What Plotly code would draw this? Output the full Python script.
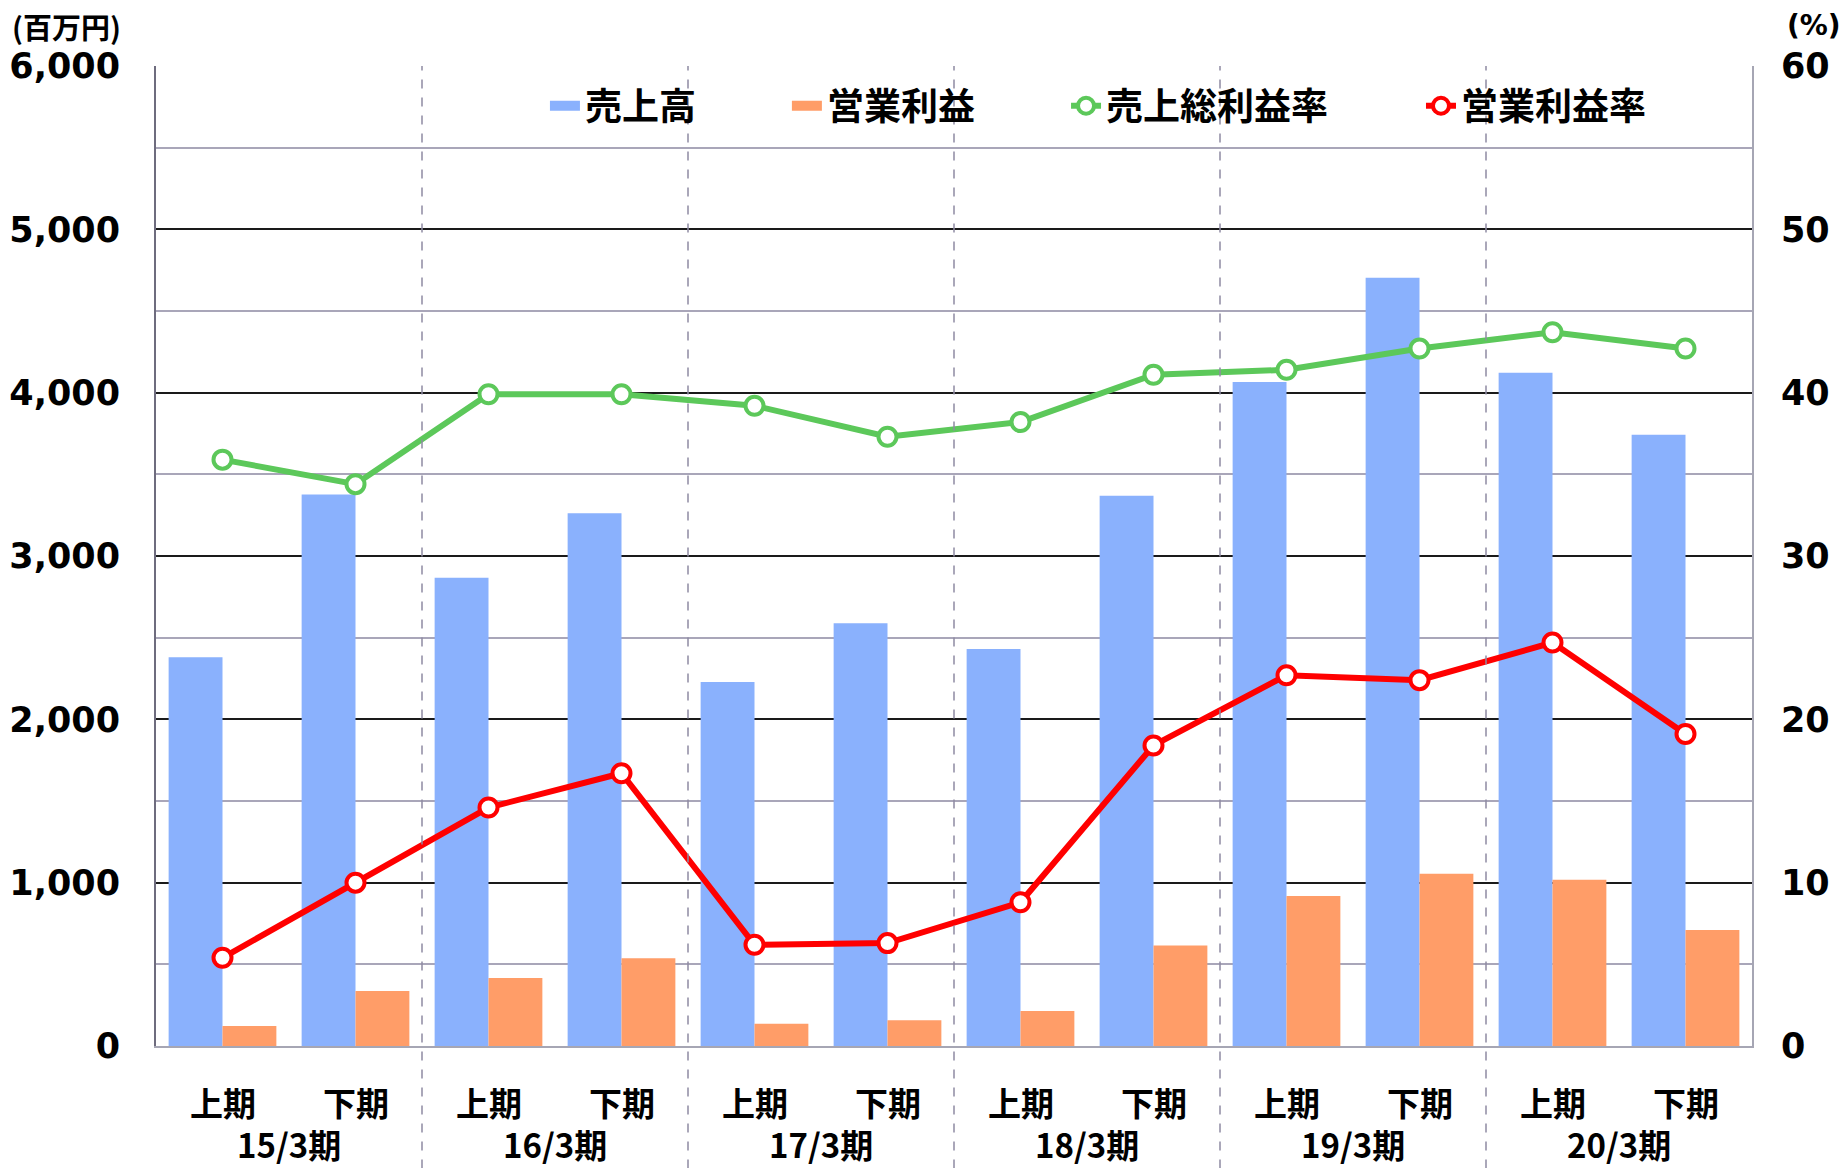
import plotly.graph_objects as go

half_labels = ["上期", "下期"] * 6
year_labels = ["15/3期", "16/3期", "17/3期", "18/3期", "19/3期", "20/3期"]
sales = [2380, 3376, 2867, 3262, 2229, 2588, 2430, 3369, 4065, 4703, 4122, 3742]
op_profit = [122, 337, 416, 538, 136, 158, 215, 616, 918, 1054, 1018, 710]
gross_margin = [35.9, 34.4, 39.9, 39.9, 39.2, 37.3, 38.2, 41.1, 41.4, 42.7, 43.7, 42.7]
op_margin = [5.4, 10.0, 14.6, 16.7, 6.2, 6.3, 8.8, 18.4, 22.7, 22.4, 24.7, 19.1]
left_ticks = [0, 1000, 2000, 3000, 4000, 5000, 6000]
right_ticks = [0, 10, 20, 30, 40, 50, 60]

BLUE = "#8AB1FD"
ORANGE = "#FF9D68"
GREEN = "#5CC85A"
RED = "#FF0000"
CJK = "Noto Sans CJK JP"
NUM = "DejaVu Sans"

x = list(range(len(sales)))
fig = go.Figure()

fig.add_trace(go.Bar(x=x, y=sales, name="売上高", marker=dict(color=BLUE, line=dict(width=0)),
                     showlegend=False, offsetgroup="a"))
fig.add_trace(go.Bar(x=x, y=op_profit, name="営業利益", marker=dict(color=ORANGE, line=dict(width=0)),
                     showlegend=False, offsetgroup="b"))
fig.add_trace(go.Scatter(x=x, y=gross_margin, name="売上総利益率", yaxis="y2", mode="lines+markers",
                         line=dict(color=GREEN, width=6),
                         marker=dict(symbol="circle", size=18, color="white", line=dict(color=GREEN, width=4)),
                         legend="legend3"))
fig.add_trace(go.Scatter(x=x, y=op_margin, name="営業利益率", yaxis="y2", mode="lines+markers",
                         line=dict(color=RED, width=6),
                         marker=dict(symbol="circle", size=18, color="white", line=dict(color=RED, width=4)),
                         legend="legend4"))
# legend keys for the bar series
fig.add_trace(go.Scatter(x=[None], y=[None], name="売上高", mode="lines",
                         line=dict(color=BLUE, width=21), legend="legend"))
fig.add_trace(go.Scatter(x=[None], y=[None], name="営業利益", mode="lines",
                         line=dict(color=ORANGE, width=21), legend="legend2"))

# dashed separators between fiscal years
for b in [1.5, 3.5, 5.5, 7.5, 9.5]:
    fig.add_shape(type="line", xref="x", yref="paper", x0=b, x1=b, y0=-0.125, y1=1,
                  line=dict(color="#8E8BA3", width=1.5, dash="dash"), layer="above")

for i, t in enumerate(half_labels):
    fig.add_annotation(x=i, y=-0.057, xref="x", yref="paper", text=t, showarrow=False,
                       font=dict(family=CJK, size=33, color="black", weight="bold"),
                       xanchor="center", yanchor="middle")
for k, t in enumerate(year_labels):
    fig.add_annotation(x=2 * k + 0.5, y=-0.1, xref="x", yref="paper", text=t, showarrow=False,
                       font=dict(family=CJK, size=33, color="black", weight="bold"),
                       xanchor="center", yanchor="middle")

fig.add_annotation(x=-0.0915, y=1.0408, xref="paper", yref="paper", text="(百万円)", showarrow=False,
                   font=dict(family=CJK, size=29, color="black", weight="bold"),
                   xanchor="left", yanchor="middle")
fig.add_annotation(x=1.0207, y=1.0418, xref="paper", yref="paper", text="(%)", showarrow=False,
                   font=dict(family=NUM, size=28, color="black", weight="bold"),
                   xanchor="left", yanchor="middle")

legend_font = dict(family=CJK, size=37, color="black", weight="bold")
leg_common = dict(orientation="h", yanchor="middle", y=0.959, xanchor="left",
                  bgcolor="rgba(0,0,0,0)", font=legend_font, borderwidth=0)

fig.update_layout(
    width=1841, height=1168,
    margin=dict(l=156, r=89, t=66, b=122, autoexpand=False),
    paper_bgcolor="white", plot_bgcolor="white",
    barmode="group", bargap=0.19, bargroupgap=0,
    showlegend=True,
    legend=dict(x=0.2437, **leg_common),
    legend2=dict(x=0.3953, **leg_common),
    legend3=dict(x=0.5702, **leg_common),
    legend4=dict(x=0.7926, **leg_common),
    xaxis=dict(range=[-0.5, 11.5], showticklabels=False, showgrid=False, zeroline=False,
               showline=True, linecolor="#A6A6B4", linewidth=2, ticks="", automargin=False),
    yaxis=dict(range=[0, 6000], tickvals=left_ticks, tickformat=",", showgrid=True,
               gridcolor="#1A1A1A", gridwidth=1.5, zeroline=False, automargin=False,
               showline=True, linecolor="#6E6C7E", linewidth=2,
               tickfont=dict(family=NUM, size=35, color="black", weight="bold"),
               ticklabelstandoff=27,
               minor=dict(dtick=500, showgrid=True, gridcolor="#A9A6B9", gridwidth=1.5)),
    yaxis2=dict(range=[0, 60], tickvals=right_ticks, overlaying="y", side="right",
                showgrid=False, zeroline=False, showline=True, linecolor="#A6A6B4", linewidth=2,
                automargin=False,
                tickfont=dict(family=NUM, size=35, color="black", weight="bold"),
                ticklabelstandoff=20),
)

fig.write_html("out.html", config={"displayModeBar": False},
               post_script="document.body.style.margin='0';document.body.style.padding='0';")
